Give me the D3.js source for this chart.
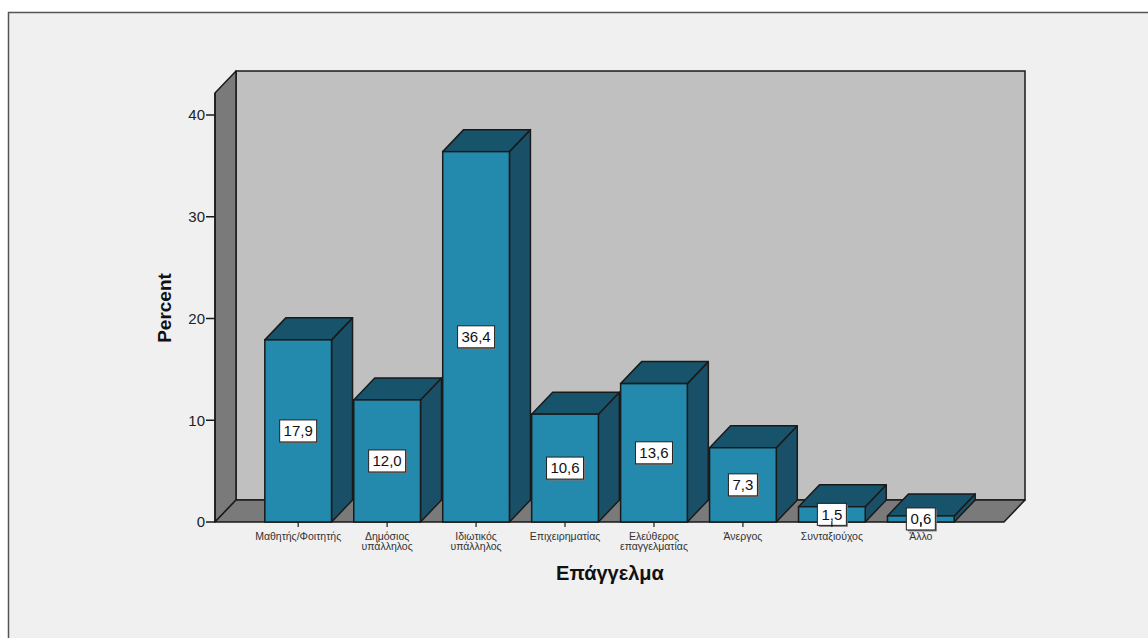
<!DOCTYPE html>
<html>
<head>
<meta charset="utf-8">
<script src="https://cdn.jsdelivr.net/npm/d3@7"></script>
<style>
    body { margin: 0; background: #fff; }
    svg { display: block; font-family: "Liberation Sans", Arial, sans-serif; }
</style>
</head>
<body>
<svg id="chart" width="1148" height="638"></svg>
<script>
// Data
const categories = [
    "Μαθητής/Φοιτητής",
    "Δημόσιος υπάλληλος",
    "Ιδιωτικός υπάλληλος",
    "Επιχειρηματίας",
    "Ελεύθερος επαγγελματίας",
    "Άνεργος",
    "Συνταξιούχος",
    "Άλλο"
];
const categoryLines = [
    ["Μαθητής/Φοιτητής"],
    ["Δημόσιος", "υπάλληλος"],
    ["Ιδιωτικός", "υπάλληλος"],
    ["Επιχειρηματίας"],
    ["Ελεύθερος", "επαγγελματίας"],
    ["Άνεργος"],
    ["Συνταξιούχος"],
    ["Άλλο"]
];
const percents = [17.9, 12.0, 36.4, 10.6, 13.6, 7.3, 1.5, 0.6];
const yTicks = [0, 10, 20, 30, 40];

const xTitle = "Επάγγελμα";
const yTitle = "Percent";

// Colors
const FRONT = "#238aad";
const TOP = "#17536a";
const SIDE = "#1a5067";
const WALL = "#c0c0c0";
const FLOOR = "#7a7a7a";
const LINE = "#1a1a1a";

// Layout (3D offset for depth)
const DX = 21, DY = 22;
const x0 = 215, x1 = 1004;
const svg = d3.select("#chart");

// outer frame
svg.append("rect")
    .attr("x", 8.5).attr("y", 12.5)
    .attr("width", 1160).attr("height", 660)
    .attr("fill", "#f0f0f0")
    .attr("stroke", "#555").attr("stroke-width", 1.5);

const x = d3.scaleBand()
    .domain(categories)
    .range([x0, x1])
    .paddingInner(0.25)
    .paddingOuter(0.56);

const y = d3.scaleLinear()
    .domain([0, 40])
    .range([522, 115]);

const yBottom = y(0);
const yTop = 93;

const pts = a => a.map(p => p.join(",")).join(" ");

// back wall
svg.append("polygon")
    .attr("points", pts([[x0 + DX, yTop - DY], [x1 + DX, yTop - DY], [x1 + DX, yBottom - DY], [x0 + DX, yBottom - DY]]))
    .attr("fill", WALL).attr("stroke", LINE).attr("stroke-width", 1.5);

// left side wall
svg.append("polygon")
    .attr("points", pts([[x0, yBottom], [x0, yTop], [x0 + DX, yTop - DY], [x0 + DX, yBottom - DY]]))
    .attr("fill", FLOOR).attr("stroke", LINE).attr("stroke-width", 1.5).attr("stroke-linejoin", "round");

// floor
svg.append("polygon")
    .attr("points", pts([[x0, yBottom], [x1, yBottom], [x1 + DX, yBottom - DY], [x0 + DX, yBottom - DY]]))
    .attr("fill", FLOOR).attr("stroke", LINE).attr("stroke-width", 1.5).attr("stroke-linejoin", "round");

// bars
const bars = svg.append("g").selectAll("g")
    .data(categories.map((c, i) => ({ c, v: percents[i] })))
    .join("g");

bars.each(function (d) {
    const g = d3.select(this);
    const l = x(d.c), r = l + x.bandwidth();
    const t = y(d.v), b = yBottom;
    g.append("polygon") // side
        .attr("points", pts([[r, b], [r, t], [r + DX, t - DY], [r + DX, b - DY]]))
        .attr("fill", SIDE).attr("stroke", LINE).attr("stroke-width", 1.5).attr("stroke-linejoin", "round");
    g.append("polygon") // top
        .attr("points", pts([[l, t], [r, t], [r + DX, t - DY], [l + DX, t - DY]]))
        .attr("fill", TOP).attr("stroke", LINE).attr("stroke-width", 1.5).attr("stroke-linejoin", "round");
    g.append("rect") // front
        .attr("x", l).attr("y", t)
        .attr("width", x.bandwidth()).attr("height", b - t)
        .attr("fill", FRONT).attr("stroke", LINE).attr("stroke-width", 1.5);
});

// y axis
svg.append("line")
    .attr("x1", x0).attr("x2", x0).attr("y1", yTop).attr("y2", yBottom)
    .attr("stroke", LINE).attr("stroke-width", 1.5);

const yAxis = svg.append("g");
yAxis.selectAll("line").data(yTicks).join("line")
    .attr("x1", x0 - 9).attr("x2", x0)
    .attr("y1", d => y(d)).attr("y2", d => y(d))
    .attr("stroke", LINE).attr("stroke-width", 1.5);
yAxis.selectAll("text").data(yTicks).join("text")
    .attr("x", x0 - 10).attr("y", d => y(d))
    .attr("dy", "0.36em")
    .attr("text-anchor", "end")
    .attr("font-size", 15)
    .attr("fill", "#222")
    .text(d => d);

// x axis ticks and labels
const xAxis = svg.append("g");
categories.forEach((c, i) => {
    const cx = x(c) + x.bandwidth() / 2;
    xAxis.append("line")
        .attr("x1", cx).attr("x2", cx).attr("y1", yBottom).attr("y2", yBottom + 5)
        .attr("stroke", LINE).attr("stroke-width", 1.2);
    const txt = xAxis.append("text")
        .attr("x", cx).attr("y", 540)
        .attr("text-anchor", "middle")
        .attr("font-size", 10.5)
        .attr("fill", "#333");
    categoryLines[i].forEach((line, k) => {
        txt.append("tspan").attr("x", cx).attr("dy", k === 0 ? 0 : 10).text(line);
    });
});

// value labels
const fmt = v => v.toFixed(1).replace(".", ",");
bars.each(function (d) {
    const g = d3.select(this);
    const cx = x(d.c) + x.bandwidth() / 2;
    const cy = (y(d.v) + yBottom) / 2;
    const label = fmt(d.v);
    const w = label.length * 8 + 5, h = 22;
    g.append("rect")
        .attr("x", cx - w / 2 + 1.5).attr("y", cy - h / 2 + 1.5)
        .attr("width", w).attr("height", h)
        .attr("fill", "#777");
    g.append("rect")
        .attr("x", cx - w / 2).attr("y", cy - h / 2)
        .attr("width", w).attr("height", h)
        .attr("fill", "#fff").attr("stroke", "#222").attr("stroke-width", 1);
    g.append("text")
        .attr("x", cx).attr("y", cy)
        .attr("dy", "0.36em")
        .attr("text-anchor", "middle")
        .attr("font-size", 15)
        .attr("fill", "#111")
        .text(label);
});

// axis titles
svg.append("text")
    .attr("transform", `translate(171,308) rotate(-90)`)
    .attr("text-anchor", "middle")
    .attr("font-size", 19)
    .attr("font-weight", "bold")
    .attr("fill", "#111")
    .text(yTitle);

svg.append("text")
    .attr("x", 610).attr("y", 580)
    .attr("text-anchor", "middle")
    .attr("font-size", 20)
    .attr("font-weight", "bold")
    .attr("fill", "#111")
    .text(xTitle);
</script>
</body>
</html>
